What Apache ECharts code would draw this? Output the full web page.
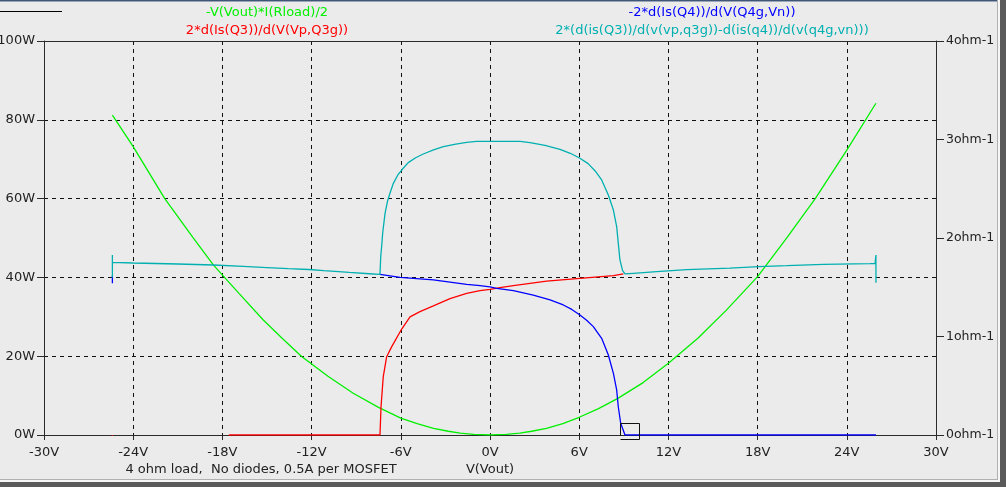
<!DOCTYPE html>
<html>
<head>
<meta charset="utf-8">
<script src="https://cdn.jsdelivr.net/npm/echarts@6/dist/echarts.min.js"></script>
<style>
html,body{margin:0;padding:0;background:#ecebec;}
#chart{width:1006px;height:487px;}
</style>
</head>
<body>
<div id="chart"></div>
<script>
// X axis ticks
const xTicks = [-30, -24, -18, -12, -6, 0, 6, 12, 18, 24, 30];
const leftTicks = [0, 20, 40, 60, 80, 100];
const rightTicks = [0, 1, 2, 3, 4];

// Series titles
const titleGreen = '-V(Vout)*I(Rload)/2';
const titleRed = '2*d(Is(Q3))/d(V(Vp,Q3g))';
const titleBlue = '-2*d(Is(Q4))/d(V(Q4g,Vn))';
const titleCyan = '2*(d(is(Q3))/d(v(vp,q3g))-d(is(q4))/d(v(q4g,vn)))';
const footNote = '4 ohm load,  No diodes, 0.5A per MOSFET';
const xName = 'V(Vout)';

// Green: power (W, left axis)
const greenV = [-25.4, -24, -21.9, -20, -18.6, -16.9, -15.25, -14, -12.67, -10.9, -9.2, -7.5, -6, -4.9, -3.8, -2.8, -2, -1.1, 0, 1.1, 2, 2.8, 3.8, 4.9, 6, 7.3, 8.6, 10.3, 12, 14, 15.9, 18, 20, 21.9, 24, 25.96];
const greenW = [81.2, 73.2, 60.1, 50.2, 43.1, 36.0, 29.2, 24.6, 19.9, 14.9, 10.6, 7.0, 4.3, 2.9, 1.7, 0.95, 0.5, 0.15, 0, 0.15, 0.5, 0.95, 1.7, 2.9, 4.5, 6.7, 9.3, 13.3, 18.2, 24.6, 31.7, 40.2, 50.2, 60.1, 72.3, 84.2];

// Red: (ohm-1, right axis); '-' where the trace lies hidden under the cyan one
const redV = [-25.4, -25.38, -17.6, -17.53, -7.4, -7.33, -7.18, -6.95, -6.61, -5.94, -5.38, -4.71, -3.81, -2.69, -1.57, -0.67, 0, 0.67, 1.57, 3.81, 6.05, 8.3, 8.97, 9.2];
const redR = [0, -0.05, -0.05, 0, 0, 0.287, 0.592, 0.795, 0.897, 1.076, 1.2, 1.252, 1.31, 1.384, 1.438, 1.465, 1.479, 1.496, 1.516, 1.563, 1.591, 1.617, 1.635, '-'];

// Blue: (ohm-1, right axis)
const blueV = [-25.4, -25.4, -25.3, -7.4, -6.05, -3.81, -1.57, -0.67, 0, 0.45, 1.57, 2.91, 4.04, 4.93, 5.5, 6.05, 6.5, 6.95, 7.51, 7.96, 8.3, 8.52, 8.63, 8.79, 9.08, 25.96];
const blueR = [1.54, 1.62, '-', 1.63, 1.601, 1.574, 1.53, 1.516, 1.503, 1.489, 1.465, 1.421, 1.371, 1.32, 1.275, 1.218, 1.165, 1.1, 0.982, 0.812, 0.626, 0.457, 0.287, 0.119, 0, 0];

// Cyan: (ohm-1, right axis)
const cyanV = [-25.4, -25.4, -25.4, -24, -21, -18.6, -16.6, -15, -13.56, -12.2, -11.17, -9.46, -8.12, -7.4, -7.35, -7.28, -7.22, -7.06, -6.9, -6.73, -6.5, -6.2, -5.94, -5.5, -5.0, -4.49, -3.8, -3.14, -2.3, -1.57, -0.9, 0, 1, 2.02, 2.69, 3.7, 4.71, 5.4, 6.05, 6.6, 7.06, 7.51, 7.96, 8.3, 8.52, 8.63, 8.74, 8.92, 9.08, 9.64, 11.21, 13.23, 16.14, 18.05, 19.96, 22.42, 25.56, 25.9, 25.96, 25.96];
const cyanR = [1.827, 1.60, 1.753, 1.746, 1.736, 1.726, 1.712, 1.70, 1.689, 1.68, 1.668, 1.65, 1.637, 1.63, 1.81, 1.93, 2.048, 2.25, 2.37, 2.454, 2.555, 2.64, 2.69, 2.765, 2.815, 2.853, 2.895, 2.927, 2.953, 2.97, 2.98, 2.98, 2.98, 2.98, 2.968, 2.94, 2.90, 2.86, 2.81, 2.755, 2.683, 2.589, 2.437, 2.284, 2.115, 1.946, 1.777, 1.668, 1.635, 1.641, 1.658, 1.678, 1.695, 1.709, 1.719, 1.733, 1.739, 1.74, 1.827, 1.546];

// Cursor box (V range, W top)
const cursorV = [8.74, 10.02];
const cursorW = 3.05;

const zip = (a, b) => a.map((v, i) => [v, b[i]]);

const FONT = 'DejaVu Sans';
const FS = 13;
const C_GREEN = '#00f000', C_RED = '#ff0000', C_BLUE = '#0000ff', C_CYAN = '#00b0b0';
const AX = '#2a2a2a';

const chart = echarts.init(document.getElementById('chart'), null, {renderer: 'canvas'});

function lineSeries(name, data, color, yIdx, z, extra) {
  return Object.assign({
    name, type: 'line', data, xAxisIndex: 0, yAxisIndex: yIdx,
    showSymbol: false, symbol: 'none', smooth: false, animation: false, connectNulls: false,
    lineStyle: {color, width: 1.3}, itemStyle: {color}, z, clip: true
  }, extra || {});
}

function txt(text, x, y, color, align) {
  return {type: 'text', x, y, silent: true, z: 100,
    style: {text, fill: color, font: FS + 'px "' + FONT + '"',
      align: align || 'center', verticalAlign: 'middle',
      textAlign: align || 'center', textVerticalAlign: 'middle'}};
}

const option = {
  backgroundColor: '#ecebec',
  animation: false,
  grid: {left: 44, right: 70, top: 41, bottom: 52, containLabel: false, outerBoundsMode: 'none', show: false},
  xAxis: [{
    type: 'value', min: xTicks[0], max: xTicks[xTicks.length - 1], interval: 6, position: 'bottom',
    axisLine: {show: true, onZero: false, lineStyle: {color: AX, width: 1}},
    axisTick: {show: true, inside: false, length: 5, lineStyle: {color: AX}},
    axisLabel: {show: true, margin: 11, color: '#222', fontFamily: FONT, fontSize: FS,
      formatter: v => v + 'V'},
    splitLine: {show: true, lineStyle: {color: '#111', type: [4, 4], width: 1}}
  }, {
    type: 'value', min: xTicks[0], max: xTicks[xTicks.length - 1], interval: 6, position: 'top',
    axisLine: {show: true, onZero: false, lineStyle: {color: AX, width: 1}},
    axisTick: {show: false}, axisLabel: {show: false}, splitLine: {show: false}
  }],
  yAxis: [{
    type: 'value', min: leftTicks[0], max: leftTicks[leftTicks.length - 1], interval: 20, position: 'left',
    axisLine: {show: true, onZero: false, lineStyle: {color: AX, width: 1}},
    axisTick: {show: true, inside: false, length: 7, lineStyle: {color: AX}},
    axisLabel: {show: true, margin: 9, color: '#222', fontFamily: FONT, fontSize: FS,
      formatter: v => v + 'W'},
    splitLine: {show: true, lineStyle: {color: '#111', type: [4, 4], width: 1}}
  }, {
    type: 'value', min: rightTicks[0], max: rightTicks[rightTicks.length - 1], interval: 1, position: 'right',
    axisLine: {show: true, onZero: false, lineStyle: {color: AX, width: 1}},
    axisTick: {show: true, inside: false, length: 8, lineStyle: {color: AX}},
    axisLabel: {show: true, margin: 10, color: '#222', fontFamily: FONT, fontSize: 12.5,
      formatter: v => v + 'ohm-1'},
    splitLine: {show: false}
  }],
  series: [
    lineSeries(titleGreen, zip(greenV, greenW), C_GREEN, 0, 3),
    lineSeries(titleRed, zip(redV, redR), C_RED, 1, 4),
    lineSeries(titleBlue, zip(blueV, blueR), C_BLUE, 1, 5),
    lineSeries(titleCyan, zip(cyanV, cyanR), C_CYAN, 1, 6)
  ],
  graphic: [
    // window frame
    {type: 'rect', shape: {x: 0, y: 0, width: 1006, height: 1}, style: {fill: '#3f5676'}, silent: true},
    {type: 'rect', shape: {x: 0, y: 1, width: 1006, height: 1}, style: {fill: '#9aa6b8'}, silent: true},
    {type: 'rect', shape: {x: 997, y: 0, width: 1, height: 480}, style: {fill: '#b0b0b0'}, silent: true},
    {type: 'rect', shape: {x: 998, y: 0, width: 2, height: 481}, style: {fill: '#f6f6f6'}, silent: true},
    {type: 'rect', shape: {x: 1000, y: 0, width: 6, height: 487}, style: {fill: '#5a5a5a'}, silent: true},
    {type: 'rect', shape: {x: 0, y: 479, width: 998, height: 1}, style: {fill: '#b0b0b0'}, silent: true},
    {type: 'rect', shape: {x: 0, y: 480, width: 1000, height: 2}, style: {fill: '#f6f6f6'}, silent: true},
    {type: 'rect', shape: {x: 0, y: 482, width: 1006, height: 5}, style: {fill: '#5a5a5a'}, silent: true},
    // legend line stub
    {type: 'line', shape: {x1: 0, y1: 11.5, x2: 62, y2: 11.5}, style: {stroke: '#000', lineWidth: 1}, silent: true},
    txt(titleGreen, 267, 13, C_GREEN),
    txt(titleRed, 267, 31, C_RED),
    txt(titleBlue, 712, 13, C_BLUE),
    txt(titleCyan, 712, 31, C_CYAN),
    txt(footNote, 261, 470, '#222'),
    txt(xName, 490, 470, '#222')
  ]
};
chart.setOption(option);

// cursor box positioned through the axes
const p1 = chart.convertToPixel({xAxisIndex: 0, yAxisIndex: 0}, [cursorV[0], cursorW]);
const p2 = chart.convertToPixel({xAxisIndex: 0, yAxisIndex: 0}, [cursorV[1], 0]);
const x1 = Math.round(p1[0]) + 0.5, x2 = Math.round(p2[0]) + 0.5;
const yt = Math.round(p1[1]) + 0.5, yb = Math.round(p2[1]) + 4.5;
chart.setOption({graphic: option.graphic.concat([{
  type: 'polyline', silent: true, z: 100,
  shape: {points: [[x1, Math.round(p2[1]) + 0.5], [x1, yt], [x2, yt], [x2, yb], [x1, yb]]},
  style: {stroke: '#111', fill: null, lineWidth: 1}
}])});
</script>
</body>
</html>
